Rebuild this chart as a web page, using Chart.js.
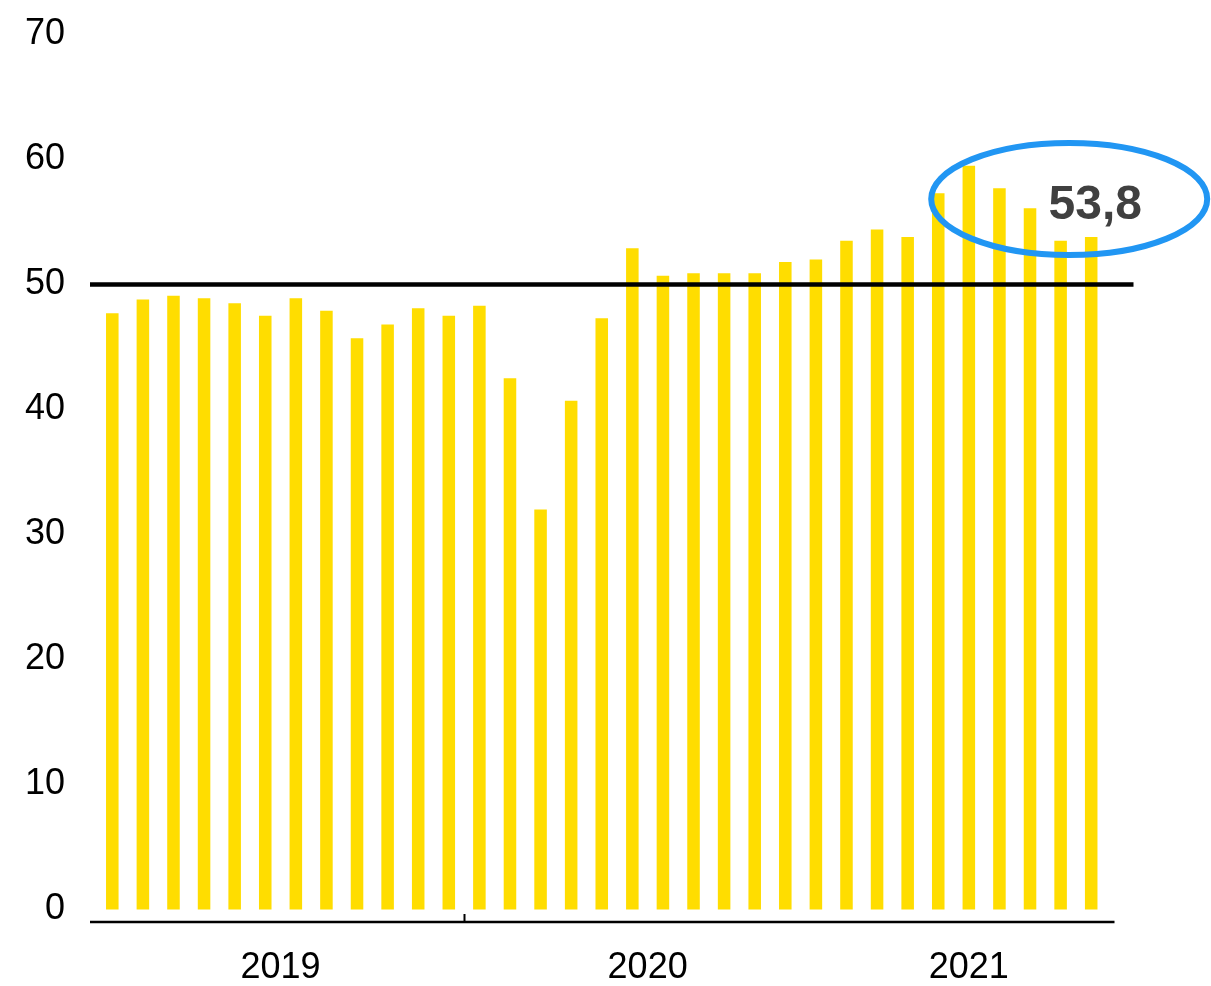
<!DOCTYPE html>
<html>
<head>
<meta charset="utf-8">
<script src="https://cdn.jsdelivr.net/npm/chart.js@4"></script>
<style>
  html, body { margin: 0; padding: 0; background: #fff; }
  #wrap { width: 1211px; height: 986px; position: relative; }
</style>
</head>
<body>
<div id="wrap"><canvas id="chart"></canvas></div>
<script>
// ===== data =====
const months = [
  '01.2019','02.2019','03.2019','04.2019','05.2019','06.2019','07.2019','08.2019','09.2019','10.2019','11.2019','12.2019',
  '01.2020','02.2020','03.2020','04.2020','05.2020','06.2020','07.2020','08.2020','09.2020','10.2020','11.2020','12.2020',
  '01.2021','02.2021','03.2021','04.2021','05.2021','06.2021','07.2021','08.2021','09.2021'
];
const values = [
  47.7, 48.8, 49.1, 48.9, 48.5, 47.5, 48.9, 47.9, 45.7, 46.8, 48.1, 47.5,
  48.3, 42.5, 32.0, 40.7, 47.3, 52.9, 50.7, 50.9, 50.9, 50.9, 51.8, 52.0,
  53.5, 54.4, 53.8, 57.3, 59.5, 57.7, 56.1, 53.5, 53.8
];
const years = ['2019', '2020', '2021'];
const yTicks = [0, 10, 20, 30, 40, 50, 60, 70];
const threshold = 50;
const separators = [12]; // category index that gets the small tick on the axis

const FONT = 'Arial, "Liberation Sans", sans-serif';

// lines, year labels and the callout for the last value
const decor = {
  id: 'decor',
  afterDatasetsDraw(chart) {
    const { ctx, chartArea: a, scales: { x, y } } = chart;
    const step = x.getPixelForValue(1) - x.getPixelForValue(0);
    ctx.save();

    // 50 line
    const ty = y.getPixelForValue(threshold);
    ctx.strokeStyle = '#000';
    ctx.lineWidth = 4.5;
    ctx.beginPath();
    ctx.moveTo(a.left - 7, ty);
    ctx.lineTo(a.right + 27, ty);
    ctx.stroke();

    // x axis line
    ctx.lineWidth = 2.5;
    ctx.beginPath();
    ctx.moveTo(a.left - 7, a.bottom);
    ctx.lineTo(a.right + 8, a.bottom);
    ctx.stroke();

    // small tick(s)
    ctx.lineWidth = 2;
    separators.forEach(i => {
      const px = Math.round(x.getPixelForValue(i) - step / 2) + 0.5;
      ctx.beginPath();
      ctx.moveTo(px, a.bottom);
      ctx.lineTo(px, a.bottom - 8);
      ctx.stroke();
    });

    // year labels, centred under their months
    ctx.fillStyle = '#000';
    ctx.font = '36px ' + FONT;
    ctx.textAlign = 'center';
    ctx.textBaseline = 'middle';
    years.forEach(yr => {
      const idx = months.map((m, i) => (m.endsWith(yr) ? i : -1)).filter(i => i >= 0);
      const l = x.getPixelForValue(idx[0]) - step / 2;
      const r = x.getPixelForValue(idx[idx.length - 1]) + step / 2;
      ctx.fillText(yr, (l + r) / 2, a.bottom + 46);
    });

    // callout
    const last = values.length - 1;
    const lx = x.getPixelForValue(last) + 4;
    const ly = y.getPixelForValue(values[last]) - 31;
    ctx.font = 'bold 48px ' + FONT;
    ctx.fillStyle = '#404040';
    ctx.fillText(values[last].toFixed(1).replace('.', ','), lx, ly);
    ctx.strokeStyle = '#2196F3';
    ctx.lineWidth = 6;
    ctx.beginPath();
    ctx.ellipse(lx - 26, ly - 7, 138, 56, 0, 0, Math.PI * 2);
    ctx.stroke();

    ctx.restore();
  }
};

new Chart(document.getElementById('chart'), {
  type: 'bar',
  data: {
    labels: months,
    datasets: [{
      data: values,
      backgroundColor: '#FFDD00',
      borderWidth: 0,
      categoryPercentage: 1,
      barPercentage: 0.41
    }]
  },
  options: {
    responsive: true,
    maintainAspectRatio: false,
    animation: false,
    layout: { padding: { left: 25, right: 104.5, top: 34.5, bottom: 64 } },
    plugins: { legend: { display: false }, tooltip: { enabled: false } },
    scales: {
      x: { display: false },
      y: {
        min: -1,
        max: 70,
        afterBuildTicks: s => { s.ticks = yTicks.map(v => ({ value: v })); },
        afterFit: s => { s.width = 72; s.paddingTop = 0; s.paddingBottom = 0; },
        grid: { display: false, drawTicks: false },
        border: { display: false },
        ticks: { color: '#000', padding: 32, font: { size: 36, family: FONT } }
      }
    }
  },
  plugins: [decor]
});
</script>
</body>
</html>
